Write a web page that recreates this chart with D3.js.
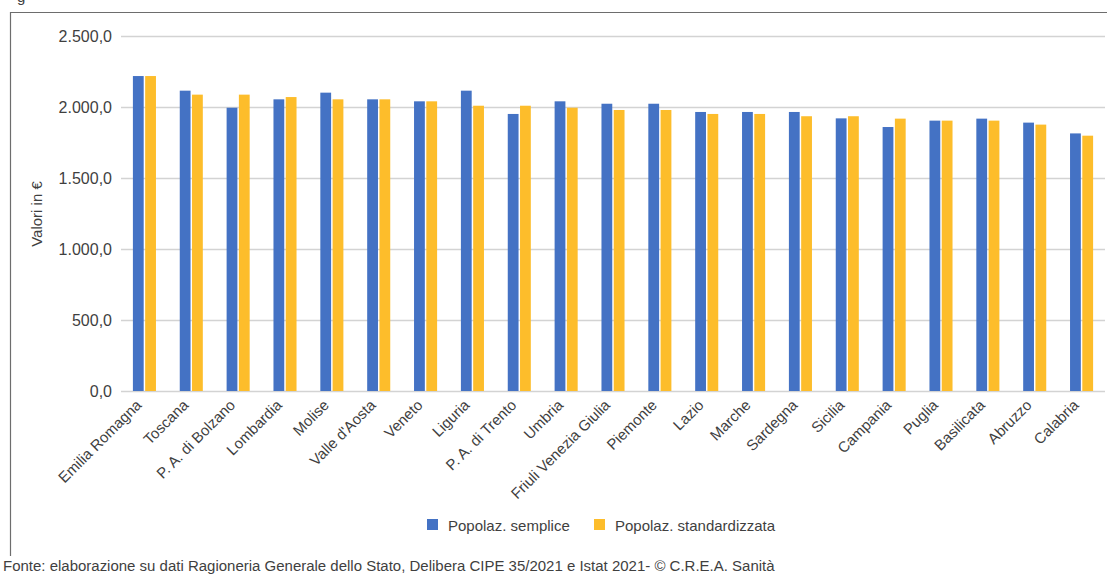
<!DOCTYPE html>
<html>
<head>
<meta charset="utf-8">
<script src="https://cdn.jsdelivr.net/npm/d3@7"></script>
<style>
  html, body { margin: 0; padding: 0; background: #fff; }
  svg { display: block; }
  text { font-family: "Liberation Sans", Arial, sans-serif; fill: #3f3f3f; }
</style>
</head>
<body>
<svg id="chart" width="1107" height="575"></svg>
<script>
// Regions (x-axis categories)
const regions = [
  "Emilia Romagna", "Toscana", "P. A. di Bolzano", "Lombardia", "Molise",
  "Valle d'Aosta", "Veneto", "Liguria", "P. A. di Trento", "Umbria",
  "Friuli Venezia Giulia", "Piemonte", "Lazio", "Marche", "Sardegna",
  "Sicilia", "Campania", "Puglia", "Basilicata", "Abruzzo", "Calabria"
];
// Per-capita values (€), simple population
const semplice = [
  2218, 2115, 1995, 2054, 2101, 2054, 2040, 2115, 1951, 2040,
  2023, 2023, 1965, 1965, 1965, 1920, 1859, 1904, 1918, 1890, 1814
];
// Per-capita values (€), standardised population
const standardizzata = [
  2218, 2087, 2087, 2070, 2054, 2054, 2040, 2009, 2009, 1995,
  1979, 1979, 1951, 1951, 1935, 1935, 1918, 1904, 1904, 1876, 1798
];
const seriesNames = ["Popolaz. semplice", "Popolaz. standardizzata"];
const yTicks = [0, 500, 1000, 1500, 2000, 2500];

const colors = ["#4472C4", "#FDBD2B"];
const svg = d3.select("#chart");

// outer frame (top and left edges)
svg.append("line").attr("x1", 10).attr("x2", 1107).attr("y1", 12.5).attr("y2", 12.5)
  .attr("stroke", "#6d6d6d").attr("stroke-width", 1.2);
svg.append("line").attr("x1", 10.5).attr("x2", 10.5).attr("y1", 12).attr("y2", 556)
  .attr("stroke", "#6d6d6d").attr("stroke-width", 1.2);
svg.append("text").attr("x", 17).attr("y", 2).attr("font-size", 15).text("g");

const plotLeft = 121, plotRight = 1105, plotTop = 36, plotBottom = 391;
const y = d3.scaleLinear().domain([0, 2500]).range([plotBottom, plotTop]);
const x0 = d3.scaleBand().domain(regions).range([plotLeft, plotRight]).paddingInner(0.445).paddingOuter(0.2225);
const x1 = d3.scaleBand().domain([0, 1]).range([0, x0.bandwidth()]).padding(0.12);

const locale = d3.formatLocale({ decimal: ",", thousands: ".", grouping: [3], currency: ["€", ""] });
const fmt = locale.format(",.1f");

// gridlines
svg.append("g").selectAll("line").data(yTicks).join("line")
  .attr("x1", plotLeft).attr("x2", plotRight)
  .attr("y1", d => Math.round(y(d)) + 0.5).attr("y2", d => Math.round(y(d)) + 0.5)
  .attr("stroke", "#d3d3d3").attr("stroke-width", 1.5);

// y-axis labels
const yAxis = d3.axisLeft(y).tickValues(yTicks).tickFormat(fmt).tickSize(0).tickPadding(0);
const yg = svg.append("g").attr("transform", "translate(112,0)").call(yAxis);
yg.select(".domain").remove();
yg.selectAll("text").attr("font-size", 16).attr("fill", "#3f3f3f")
  .attr("font-family", "'Liberation Sans', Arial, sans-serif");

svg.append("text").attr("transform", "translate(42,214) rotate(-90)")
  .attr("text-anchor", "middle").attr("font-size", 15).text("Valori in €");

// bars
const groups = svg.append("g").selectAll("g").data(regions).join("g")
  .attr("transform", d => `translate(${x0(d)},0)`);
groups.selectAll("rect")
  .data((d, i) => [semplice[i], standardizzata[i]].map((v, k) => ({ v, k })))
  .join("rect")
  .attr("x", d => x1(d.k))
  .attr("width", x1.bandwidth())
  .attr("y", d => y(d.v))
  .attr("height", d => y(0) - y(d.v))
  .attr("fill", d => colors[d.k]);

// x-axis labels
const xAxis = d3.axisBottom(x0).tickSize(0).tickPadding(0);
const xg = svg.append("g").attr("transform", `translate(0,${plotBottom})`).call(xAxis);
xg.select(".domain").remove();
xg.selectAll("text")
  .attr("font-size", 15).attr("fill", "#3f3f3f")
  .attr("font-family", "'Liberation Sans', Arial, sans-serif")
  .attr("text-anchor", "end").attr("dy", null).attr("y", 0)
  .attr("transform", "translate(-2,15) rotate(-45)");

// legend
const legend = svg.append("g");
const legendX = [427, 594];
seriesNames.forEach((name, k) => {
  legend.append("rect").attr("x", legendX[k]).attr("y", 519).attr("width", 11).attr("height", 11).attr("fill", colors[k]);
  legend.append("text").attr("x", legendX[k] + 21).attr("y", 531).attr("font-size", 15).text(name);
});

// source note, sized to span the same width as the legend block
const note = svg.append("text").attr("x", 3).attr("y", 571).attr("font-size", 15)
  .text("Fonte: elaborazione su dati Ragioneria Generale dello Stato, Delibera CIPE 35/2021 e Istat 2021- © C.R.E.A. Sanità");
const w = note.node().getComputedTextLength();
note.attr("font-size", 15 * 772 / w);
</script>
</body>
</html>
